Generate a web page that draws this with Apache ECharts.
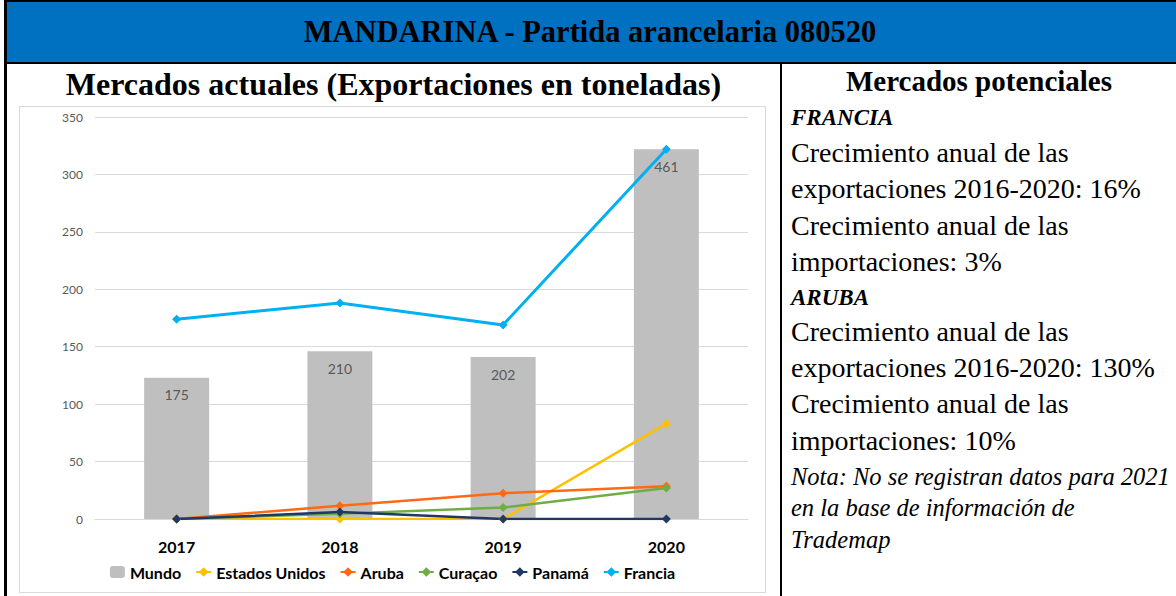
<!DOCTYPE html>
<html>
<head>
<meta charset="utf-8">
<title>Mandarina - Partida arancelaria 080520</title>
<script src="https://cdn.jsdelivr.net/npm/echarts@6/dist/echarts.min.js"></script>
<style>
    body { margin: 0; background: #fff; }
    #page { position: relative; width: 1176px; height: 596px; overflow: hidden; background: #fff;
        font-family: "Liberation Serif", "DejaVu Serif", serif; color: #000; }
    .head { position: absolute; left: 4px; top: 0; width: 1172px; height: 60px; background: #0070C0;
        border-top: 2px solid #000; border-bottom: 2px solid #000; }
    .frame-left { position: absolute; left: 4px; top: 0; width: 3px; height: 596px; background: #000; }
    .divider { position: absolute; left: 780px; top: 64px; width: 2px; height: 532px; background: #000; }
    .t { position: absolute; white-space: nowrap; line-height: 1; }
    .box { position: absolute; left: 19px; top: 106px; width: 747px; height: 487px;
        border: 1px solid #D9D9D9; box-sizing: border-box; }
    #chart { position: absolute; left: 20px; top: 107px; width: 745px; height: 485px; }
    .b28 { font-size: 28px; left: 791px; }
    .bi { font-size: 23px; left: 791px; font-weight: bold; font-style: italic; }
    .n24 { font-size: 24.5px; left: 791px; font-style: italic; }
</style>
</head>
<body>
<div id="page">
    <div class="head"></div>
    <div class="frame-left"></div>
    <div class="divider"></div>

    <div class="t" style="left:4px;width:1172px;text-align:center;top:17px;font-size:30.5px;font-weight:bold;">MANDARINA - Partida arancelaria 080520</div>
    <div class="t" style="left:7px;width:773px;text-align:center;top:68px;font-size:32px;font-weight:bold;">Mercados actuales (Exportaciones en toneladas)</div>

    <div class="t" style="left:782px;width:394px;text-align:center;top:67px;font-size:29px;font-weight:bold;">Mercados potenciales</div>
    <div class="t bi" style="top:106px;">FRANCIA</div>
    <div class="t b28" style="top:139px;">Crecimiento anual de las</div>
    <div class="t b28" style="top:175px;">exportaciones 2016-2020: 16%</div>
    <div class="t b28" style="top:212px;">Crecimiento anual de las</div>
    <div class="t b28" style="top:248px;">importaciones: 3%</div>
    <div class="t bi" style="top:286px;">ARUBA</div>
    <div class="t b28" style="top:318px;">Crecimiento anual de las</div>
    <div class="t b28" style="top:354px;">exportaciones 2016-2020: 130%</div>
    <div class="t b28" style="top:390px;">Crecimiento anual de las</div>
    <div class="t b28" style="top:427px;">importaciones: 10%</div>
    <div class="t n24" style="top:465px;">Nota: No se registran datos para 2021</div>
    <div class="t n24" style="top:496px;">en la base de información de</div>
    <div class="t n24" style="top:528px;">Trademap</div>

    <div class="box"></div>
    <div id="chart"></div>
</div>

<script>
    // datos (toneladas)
    var years = ['2017', '2018', '2019', '2020'];
    var mundo = [123, 146, 141, 322];
    var mundoLabels = ['175', '210', '202', '461'];
    var estadosUnidos = [0, 0, 0, 83];
    var aruba = [0, 11.5, 22.5, 28.5];
    var curacao = [0, 4.5, 10, 27];
    var panama = [0, 6, 0, 0];
    var francia = [174, 188, 169, 322];

    var chartFont = 'Lato, "Liberation Sans", sans-serif';

    var lineSeries = function (name, data, color, width) {
        return {
            name: name,
            type: 'line',
            data: data,
            symbol: 'diamond',
            symbolSize: 9,
            itemStyle: {color: color},
            lineStyle: {color: color, width: width},
            z: 3
        };
    };

    var chart = echarts.init(document.getElementById('chart'), null, {renderer: 'svg'});
    chart.setOption({
        animation: false,
        textStyle: {fontFamily: chartFont},
        grid: {left: 75, top: 10, right: 17, bottom: 73},
        legend: {
            left: 'center',
            top: 452,
            itemWidth: 15,
            itemHeight: 12,
            itemGap: 14,
            textStyle: {fontSize: 16, fontWeight: 'bold', color: '#000', fontFamily: chartFont},
            data: ['Mundo', 'Estados Unidos', 'Aruba', 'Curaçao', 'Panamá', 'Francia']
        },
        xAxis: {
            type: 'category',
            data: years,
            axisLine: {lineStyle: {color: '#D9D9D9'}},
            axisTick: {show: false},
            axisLabel: {fontSize: 16, fontWeight: 'bold', color: '#000', margin: 19}
        },
        yAxis: {
            type: 'value',
            min: 0,
            max: 350,
            interval: 50,
            axisLine: {show: false},
            axisTick: {show: false},
            axisLabel: {fontSize: 12, color: '#595959', margin: 12},
            splitLine: {lineStyle: {color: '#D9D9D9'}}
        },
        series: [
            {
                name: 'Mundo',
                type: 'bar',
                data: mundo,
                barWidth: 65,
                itemStyle: {color: '#BFBFBF'},
                label: {
                    show: true,
                    position: 'insideTop',
                    distance: 10,
                    fontSize: 14,
                    color: '#595959',
                    formatter: function (p) {
                        return mundoLabels[p.dataIndex];
                    }
                },
                z: 2
            },
            lineSeries('Estados Unidos', estadosUnidos, '#FFC000', 2.5),
            lineSeries('Aruba', aruba, '#FF6A13', 2.5),
            lineSeries('Curaçao', curacao, '#70AD47', 2.5),
            lineSeries('Panamá', panama, '#1F3864', 2.5),
            lineSeries('Francia', francia, '#00B0F0', 3)
        ]
    });
</script>
</body>
</html>
